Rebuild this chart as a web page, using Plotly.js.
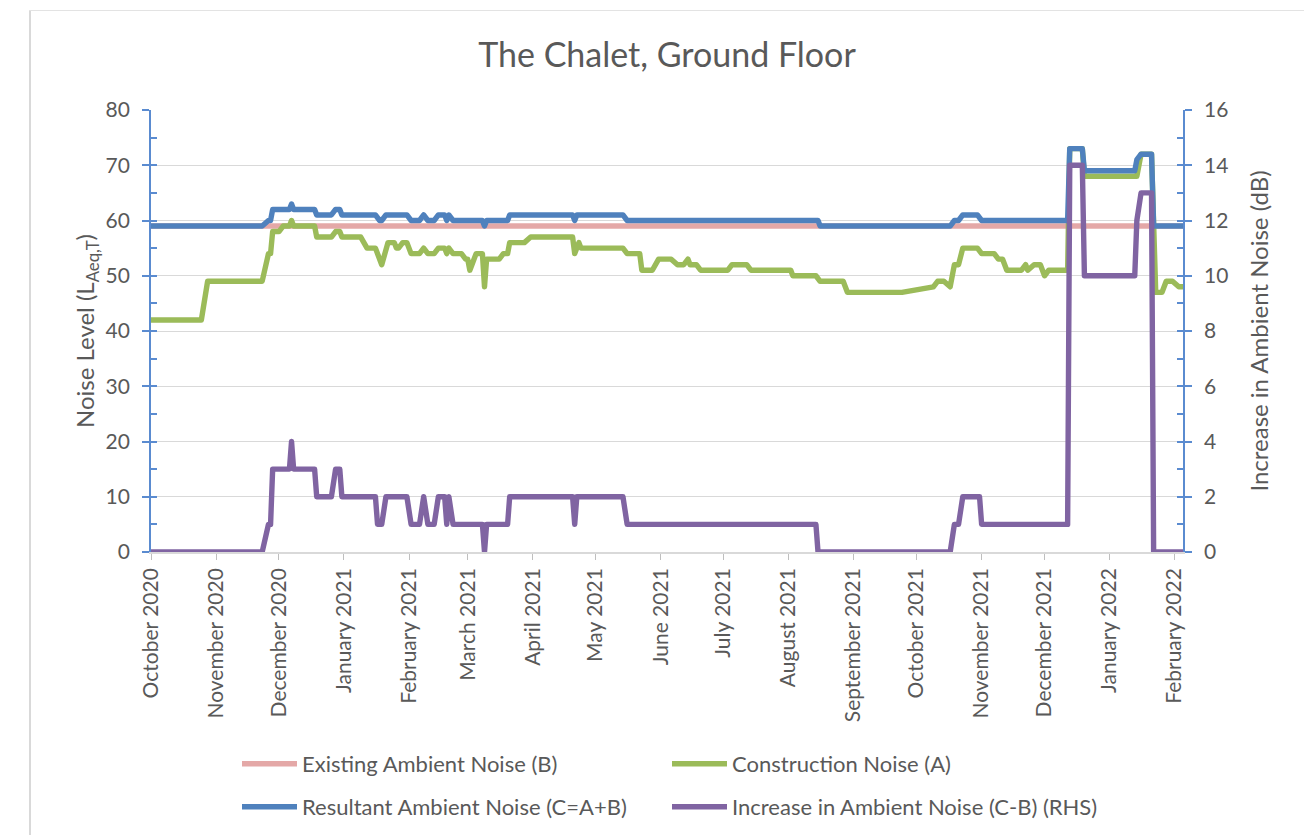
<!DOCTYPE html>
<html>
<head>
<meta charset="utf-8">
<script src="https://cdn.plot.ly/plotly-3.0.1.min.js"></script>
<style>
  html, body { margin: 0; padding: 0; background: #ffffff; }
  #chart { width: 1304px; height: 835px; position: relative; }
  .frame-left { position: absolute; left: 29px; top: 10px; width: 2px; height: 830px; background: #d9d9d9; }
  .frame-top { position: absolute; left: 29px; top: 10px; width: 1280px; height: 1px; background: #e3e3e3; }
  .scatterlayer path.js-line { stroke-linejoin: round; stroke-linecap: round; }
</style>
</head>
<body>
<div id="chart"></div>
<div class="frame-left"></div>
<div class="frame-top"></div>
<script>
// ---- Series names ----
const seriesNames = [
  "Existing Ambient Noise (B)",
  "Construction Noise (A)",
  "Resultant Ambient Noise (C=A+B)",
  "Increase in Ambient Noise (C-B) (RHS)"
];

// ---- Existing Ambient Noise (B), dB LAeq,T ----
const datesB = ["2020-10-01", "2022-02-05"];
const valuesB = [59, 59];

// ---- Construction Noise (A), dB LAeq,T ----
const datesA = [
  "2020-10-01","2020-10-25","2020-10-28","2020-11-23","2020-11-26","2020-11-27","2020-11-28",
  "2020-12-01","2020-12-03","2020-12-06","2020-12-07","2020-12-08","2020-12-18","2020-12-19",
  "2020-12-26","2020-12-28","2020-12-30","2020-12-31","2021-01-09","2021-01-12","2021-01-16",
  "2021-01-17","2021-01-19","2021-01-22","2021-01-25","2021-01-26","2021-01-27","2021-01-29",
  "2021-01-31","2021-02-02","2021-02-06","2021-02-08","2021-02-10","2021-02-13","2021-02-15",
  "2021-02-18","2021-02-19","2021-02-20","2021-02-22","2021-02-26","2021-02-28","2021-03-01",
  "2021-03-02","2021-03-03","2021-03-05","2021-03-08","2021-03-09","2021-03-10","2021-03-16",
  "2021-03-18","2021-03-20","2021-03-21","2021-03-28","2021-03-31","2021-04-20","2021-04-21",
  "2021-04-23","2021-04-24","2021-05-14","2021-05-16","2021-05-22","2021-05-23","2021-05-28",
  "2021-05-31","2021-06-06","2021-06-09","2021-06-12","2021-06-14","2021-06-15","2021-06-18",
  "2021-06-20","2021-07-03","2021-07-05","2021-07-12","2021-07-14","2021-08-02","2021-08-03",
  "2021-08-14","2021-08-16","2021-08-27","2021-08-29","2021-09-24","2021-10-09","2021-10-11",
  "2021-10-14","2021-10-17","2021-10-19","2021-10-21","2021-10-23","2021-10-30","2021-11-01",
  "2021-11-07","2021-11-09","2021-11-11","2021-11-13","2021-11-20","2021-11-22","2021-11-23",
  "2021-11-26","2021-11-29","2021-12-01","2021-12-03","2021-12-12","2021-12-13","2021-12-19",
  "2021-12-20","2022-01-14","2022-01-16","2022-01-21","2022-01-23","2022-01-26","2022-01-28",
  "2022-01-31","2022-02-03","2022-02-05"
];
const valuesA = [
  42,42,49,49,54,54,58,
  58,59,59,60,59,59,57,
  57,58,58,57,57,55,55,
  54,52,56,56,55,55,56,
  56,54,54,55,54,54,55,
  55,54,55,54,54,53,53,
  51,52,54,54,48,53,53,
  54,54,56,56,57,57,54,
  56,55,55,54,54,51,51,
  53,53,52,52,53,52,52,
  51,51,52,52,51,51,50,
  50,49,49,47,47,48,49,
  49,48,52,52,55,55,54,
  54,53,53,51,51,52,51,
  52,52,50,51,51,73,73,
  68,68,72,72,47,47,49,
  49,48,48
];

// ---- Resultant Ambient Noise (C=A+B), dB LAeq,T ----
const datesC = [
  "2020-10-01","2020-11-23","2020-11-26","2020-11-27","2020-11-28","2020-12-06","2020-12-07",
  "2020-12-08","2020-12-18","2020-12-19","2020-12-26","2020-12-28","2020-12-30","2020-12-31",
  "2021-01-16","2021-01-18","2021-01-19","2021-01-21","2021-01-31","2021-02-02","2021-02-06",
  "2021-02-08","2021-02-10","2021-02-13","2021-02-15","2021-02-18","2021-02-19","2021-02-20",
  "2021-02-22","2021-03-08","2021-03-09","2021-03-10","2021-03-20","2021-03-21","2021-04-20",
  "2021-04-21","2021-04-22","2021-05-14","2021-05-16","2021-08-15","2021-08-16","2021-10-17",
  "2021-10-19","2021-10-21","2021-10-23","2021-10-30","2021-11-01","2021-12-12","2021-12-13",
  "2021-12-19","2021-12-20","2022-01-13","2022-01-14","2022-01-16","2022-01-21","2022-01-22",
  "2022-02-05"
];
const valuesC = [
  59,59,60,60,62,62,63,
  62,62,61,61,62,62,61,
  61,60,60,61,61,60,60,
  61,60,60,61,61,60,61,
  60,60,59,60,60,61,61,
  60,61,61,60,60,59,59,
  60,60,61,61,60,60,73,
  73,69,69,71,72,72,59,
  59
];

// ---- Increase in Ambient Noise (C-B), dB (right-hand axis) ----
const datesD = [
  "2020-10-01","2020-11-23","2020-11-26","2020-11-27","2020-11-28","2020-12-06","2020-12-07",
  "2020-12-08","2020-12-18","2020-12-19","2020-12-26","2020-12-28","2020-12-30","2020-12-31",
  "2021-01-16","2021-01-17","2021-01-19","2021-01-21","2021-01-31","2021-02-02","2021-02-06",
  "2021-02-08","2021-02-10","2021-02-13","2021-02-15","2021-02-18","2021-02-19","2021-02-20",
  "2021-02-22","2021-03-08","2021-03-09","2021-03-10","2021-03-20","2021-03-21","2021-04-20",
  "2021-04-21","2021-04-22","2021-05-14","2021-05-16","2021-08-14","2021-08-15","2021-10-17",
  "2021-10-19","2021-10-21","2021-10-23","2021-10-31","2021-11-01","2021-12-12","2021-12-13",
  "2021-12-19","2021-12-20","2022-01-13","2022-01-14","2022-01-16","2022-01-21","2022-01-22",
  "2022-02-05"
];
const valuesD = [
  0,0,1,1,3,3,4,
  3,3,2,2,3,3,2,
  2,1,1,2,2,1,1,
  2,1,1,2,2,1,2,
  1,1,0,1,1,2,2,
  1,2,2,1,1,0,0,
  1,1,2,2,1,1,14,
  14,10,10,12,13,13,0,
  0
];

// ---- Axis labels ----
const chartTitle = "The Chalet, Ground Floor";
const leftAxisTitle = "Noise Level (L<sub>Aeq,T</sub>)";
const rightAxisTitle = "Increase in Ambient Noise (dB)";
const xRange = ["2020-10-01", "2022-02-05"];

const FONT = "Lato, 'Open Sans', 'Liberation Sans', sans-serif";
const TXT = "#595959";
const AXBLUE = "#5a8bd0";
const LW = 5.4;

const traces = [
  { x: datesB, y: valuesB, name: seriesNames[0], type: "scatter", mode: "lines",
    line: { color: "#e4a8a7", width: LW }, yaxis: "y", legend: "legend" },
  { x: datesA, y: valuesA, name: seriesNames[1], type: "scatter", mode: "lines",
    line: { color: "#9bbb59", width: LW }, yaxis: "y", legend: "legend" },
  { x: datesC, y: valuesC, name: seriesNames[2], type: "scatter", mode: "lines",
    line: { color: "#4f81bd", width: LW }, yaxis: "y", legend: "legend2" },
  { x: datesD, y: valuesD, name: seriesNames[3], type: "scatter", mode: "lines",
    line: { color: "#8064a2", width: LW }, yaxis: "y2", legend: "legend2" },
  // empty helpers so the inside-tick overlay axes are drawn
  { x: [], y: [], yaxis: "y3", showlegend: false, hoverinfo: "skip", type: "scatter", mode: "lines" },
  { x: [], y: [], yaxis: "y4", showlegend: false, hoverinfo: "skip", type: "scatter", mode: "lines" }
];

const legendCommon = {
  orientation: "h",
  xanchor: "left",
  yanchor: "middle",
  font: { family: FONT, size: 22, color: TXT },
  bgcolor: "rgba(0,0,0,0)",
  itemwidth: 55,
  entrywidth: 360,
  entrywidthmode: "pixels",
  traceorder: "normal"
};

const layout = {
  width: 1304,
  height: 835,
  margin: { l: 151, r: 121, t: 110, b: 283, autoexpand: false },
  paper_bgcolor: "#ffffff",
  plot_bgcolor: "#ffffff",
  font: { family: FONT, color: TXT },
  showlegend: true,
  title: {
    text: chartTitle,
    font: { family: FONT, size: 34, color: TXT },
    x: 0.5, xref: "paper", xanchor: "center",
    y: 1 - 55 / 835, yref: "container", yanchor: "middle"
  },
  xaxis: {
    type: "date",
    range: xRange,
    dtick: "M1",
    tick0: "2020-10-01",
    tickformat: "%B %Y",
    tickangle: -90,
    tickfont: { family: FONT, size: 21, color: TXT },
    ticks: "outside",
    ticklen: 6,
    tickwidth: 1.3,
    tickcolor: "#bfbfbf",
    showgrid: false,
    showline: true,
    linecolor: "#d9d9d9",
    linewidth: 1.5,
    zeroline: false,
    fixedrange: true
  },
  yaxis: {
    range: [0, 80],
    dtick: 10,
    tick0: 0,
    showgrid: true,
    gridcolor: "#d9d9d9",
    gridwidth: 1.3,
    zeroline: false,
    showline: true,
    linecolor: AXBLUE,
    linewidth: 1.8,
    ticks: "outside",
    ticklen: 7,
    tickwidth: 1.8,
    tickcolor: AXBLUE,
    ticklabelstandoff: 8,
    tickfont: { family: FONT, size: 21, color: TXT },
    title: { text: leftAxisTitle, standoff: 4, font: { family: FONT, size: 24, color: TXT } },
    fixedrange: true
  },
  yaxis2: {
    range: [0, 16],
    dtick: 2,
    tick0: 0,
    overlaying: "y",
    side: "right",
    anchor: "x",
    showgrid: false,
    zeroline: false,
    showline: true,
    linecolor: AXBLUE,
    linewidth: 1.8,
    ticks: "outside",
    ticklen: 7,
    tickwidth: 1.8,
    tickcolor: AXBLUE,
    ticklabelstandoff: 8,
    tickfont: { family: FONT, size: 21, color: TXT },
    title: { text: rightAxisTitle, standoff: 24, font: { family: FONT, size: 24, color: TXT } },
    fixedrange: true
  },
  yaxis3: {
    range: [0, 80],
    dtick: 5,
    tick0: 0,
    overlaying: "y",
    side: "left",
    anchor: "x",
    showgrid: false,
    zeroline: false,
    showline: false,
    ticks: "inside",
    ticklen: 6,
    tickwidth: 1.8,
    tickcolor: AXBLUE,
    showticklabels: false,
    fixedrange: true
  },
  yaxis4: {
    range: [0, 16],
    dtick: 1,
    tick0: 0,
    overlaying: "y",
    side: "right",
    anchor: "x",
    showgrid: false,
    zeroline: false,
    showline: false,
    ticks: "inside",
    ticklen: 6,
    tickwidth: 1.8,
    tickcolor: AXBLUE,
    showticklabels: false,
    fixedrange: true
  },
  legend: Object.assign({}, legendCommon, {
    x: (237 - 151) / 1032,
    y: (552 - 764) / 442
  }),
  legend2: Object.assign({}, legendCommon, {
    x: (237 - 151) / 1032,
    y: (552 - 807) / 442
  })
};

Plotly.newPlot("chart", traces, layout, { displayModeBar: false, responsive: false });
</script>
</body>
</html>
